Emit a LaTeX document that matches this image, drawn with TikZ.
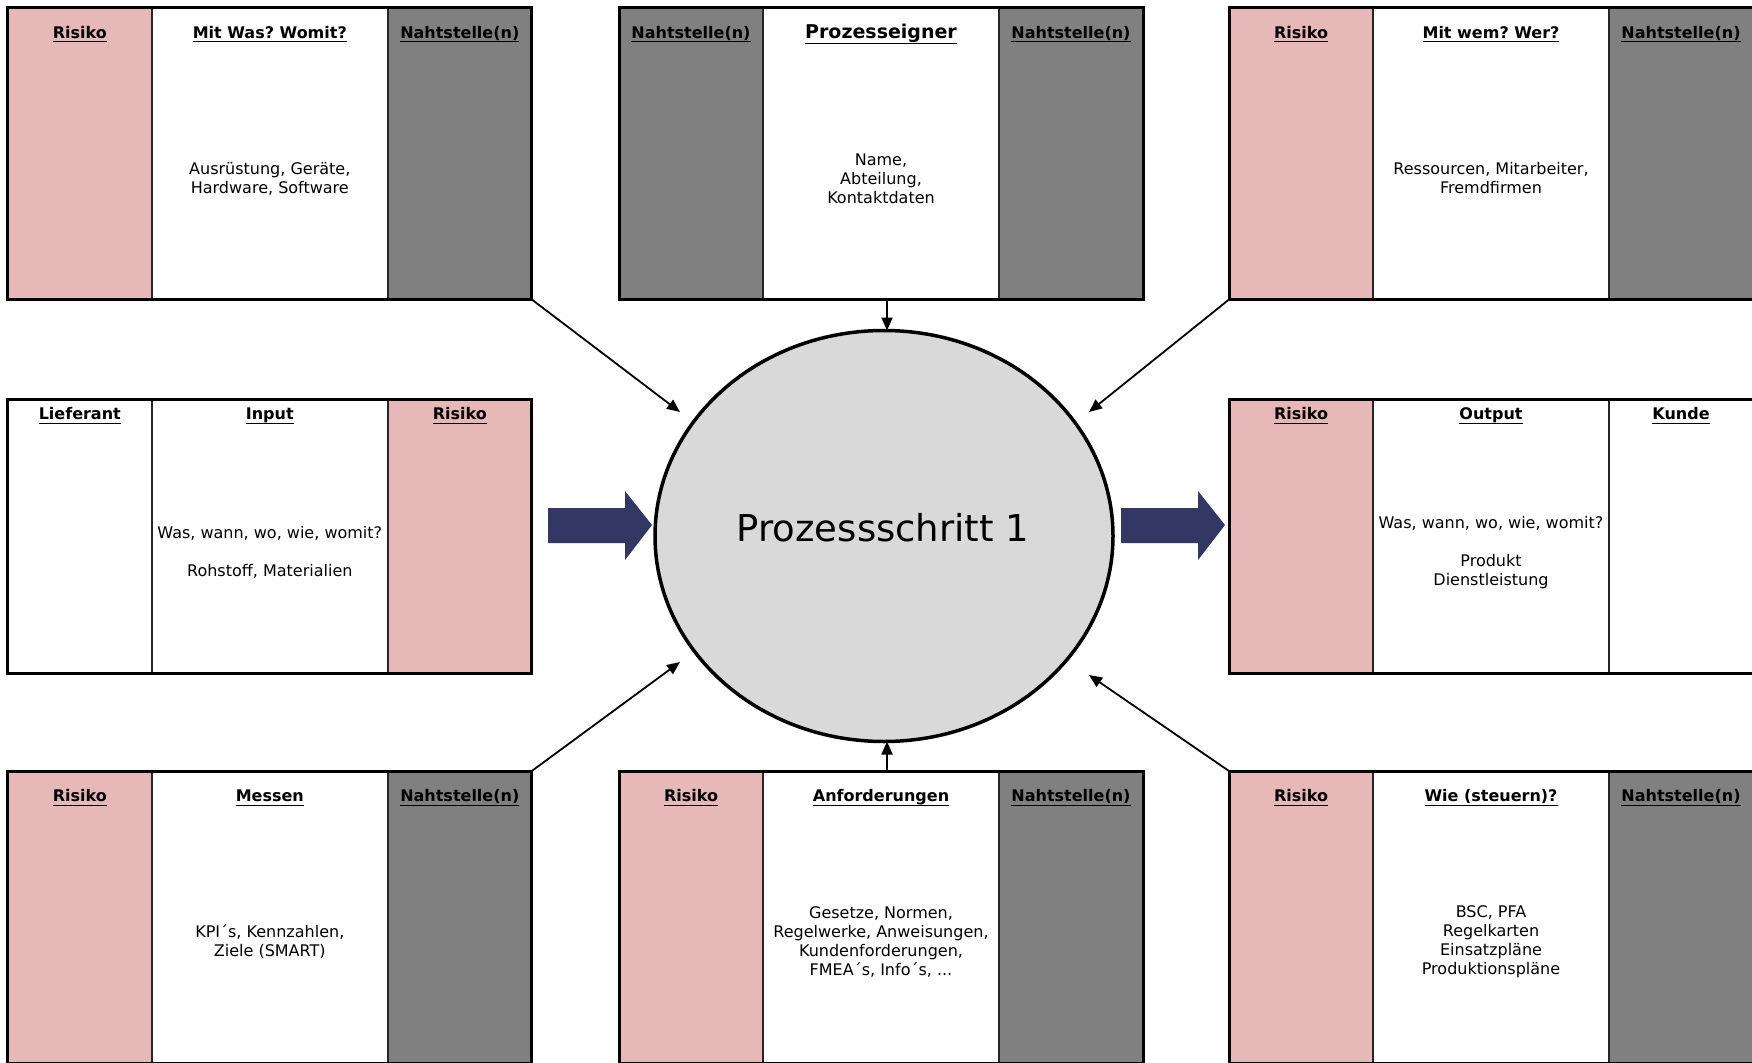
\documentclass[tikz,border=0pt]{standalone}
\usepackage{fontspec}
\setmainfont{DejaVu Sans}
\usetikzlibrary{shapes.geometric,arrows.meta,calc}
\frenchspacing

\definecolor{risk}{RGB}{230,184,183}
\definecolor{seam}{RGB}{128,128,128}
\definecolor{stepfill}{RGB}{217,217,217}
\definecolor{flow}{RGB}{50,55,100}

\tikzset{
  frame/.style={draw=black, line width=3pt, rectangle, inner sep=0pt, outer sep=0pt},
  divider/.style={draw=black!85, line width=1.4pt},
  head/.style={font=\fontsize{16}{19}\selectfont\bfseries, inner sep=0pt},
  body/.style={font=\fontsize{16}{19}\selectfont, align=center, inner sep=0pt},
  conn/.style={line width=1.8pt, -{Triangle[length=13pt,width=11pt]}},
}

% underlined heading with a uniform underline depth
\newcommand\hd[1]{\underline{\smash{#1}\vphantom{(}}}
\def\hdoff{26.5}
% #1 name, #2 left x, #3 top y, #4 height, #5 left fill, #6 right fill,
% #7 #8 #9 column headings
\newcommand\panel[9]{%
  \fill[#5] (#2,#3) rectangle (#2+144,#3+#4);
  \fill[#6] (#2+380,#3) rectangle (#2+524,#3+#4);
  \draw[divider] (#2+144,#3) -- (#2+144,#3+#4);
  \draw[divider] (#2+380,#3) -- (#2+380,#3+#4);
  \node[frame, minimum width=524pt, minimum height=#4pt, anchor=north west] (#1) at (#2,#3) {};
  \node[head] (#1-l) at (#2+72,#3+\hdoff) {#7};
  \node[head] (#1-m) at (#2+262,#3+\hdoff) {#8};
  \node[head] (#1-r) at (#2+452,#3+\hdoff) {#9};
}

\begin{document}
\begin{tikzpicture}[x=1pt,y=-1pt]
\useasboundingbox (0,0) rectangle (1752,1062);
\clip (0,0) rectangle (1752,1062);
\fill[white] (0,0) rectangle (1752,1062);

% top row
\panel{mitwas}{7.8}{7.5}{292}{risk}{seam}{\hd{Risiko}}{\hd{Mit Was? Womit?}}{\hd{Nahtstelle(n)}}
\panel{owner}{619}{7.5}{292}{seam}{seam}{\hd{Nahtstelle(n)}}{{\fontsize{19}{22}\selectfont\hd{Prozesseigner}}}{\hd{Nahtstelle(n)}}
\panel{wer}{1229}{7.5}{292}{risk}{seam}{\hd{Risiko}}{\hd{Mit wem? Wer?}}{\hd{Nahtstelle(n)}}

% middle row
\def\hdoff{16.5}
\panel{input}{7.8}{399}{274}{white}{risk}{\hd{Lieferant}}{\hd{Input}}{\hd{Risiko}}
\panel{output}{1229}{399}{274}{risk}{white}{\hd{Risiko}}{\hd{Output}}{\hd{Kunde}}

% bottom row
\def\hdoff{26.5}
\panel{messen}{7.8}{771}{292}{risk}{seam}{\hd{Risiko}}{\hd{Messen}}{\hd{Nahtstelle(n)}}
\panel{anf}{619}{771}{292}{risk}{seam}{\hd{Risiko}}{\hd{Anforderungen}}{\hd{Nahtstelle(n)}}
\panel{steuern}{1229}{771}{292}{risk}{seam}{\hd{Risiko}}{\hd{Wie (steuern)?}}{\hd{Nahtstelle(n)}}

% column contents
\node[body] (mitwas-t) at (269.8,178.5) {Ausrüstung, Geräte,\\Hardware, Software};
\node[body] (owner-t) at (881,178.5) {Name,\\Abteilung,\\Kontaktdaten};
\node[body] (wer-t) at (1491,178.5) {Ressourcen, Mitarbeiter,\\Fremdfirmen};
\node[body] (input-t) at (269.8,552) {Was, wann, wo, wie, womit?\\[19pt]Rohstoff, Materialien};
\node[body] (output-t) at (1491,552.5) {Was, wann, wo, wie, womit?\\[19pt]Produkt\\Dienstleistung};
\node[body] (messen-t) at (269.8,942) {KPI´s, Kennzahlen,\\Ziele (SMART)};
\node[body] (anf-t) at (881,942) {Gesetze, Normen,\\Regelwerke, Anweisungen,\\Kundenforderungen,\\FMEA´s, Info´s, ...};
\node[body] (steuern-t) at (1491,942) {BSC, PFA\\Regelkarten\\Einsatzpläne\\Produktionspläne};

% process step
\node[ellipse, draw=black, line width=3.5pt, fill=stepfill, minimum width=458pt,
      minimum height=411pt, inner sep=0pt, outer sep=0pt] (step) at (884,536) {};
\node[font=\fontsize{37}{40}\selectfont, inner sep=0pt] (step-t) at (883,528) {Prozessschritt 1};

% input / output flow arrows
\fill[flow] (548,508) -- (625,508) -- (625,491) -- (652,525) -- (625,560)
  -- (625,543) -- (548,543) -- cycle;
\fill[flow] (1121,508) -- (1198,508) -- (1198,491) -- (1225,525) -- (1198,560)
  -- (1198,543) -- (1121,543) -- cycle;

% connectors into the process step
\coordinate (tipNW) at (680,412);
\coordinate (tipNE) at (1089,412);
\coordinate (tipSW) at (680,662);
\coordinate (tipSE) at (1089,675);
\draw[conn] (mitwas.south east) -- (tipNW);
\draw[conn] (wer.south west) -- (tipNE);
\draw[conn] (messen.north east) -- (tipSW);
\draw[conn] (steuern.north west) -- (tipSE);
\draw[conn, transform canvas={xshift=3pt}] (owner.south -| step.north) -- (step.north);
\draw[conn, transform canvas={xshift=3pt}] (anf.north -| step.south) -- (step.south);
\end{tikzpicture}
\end{document}
